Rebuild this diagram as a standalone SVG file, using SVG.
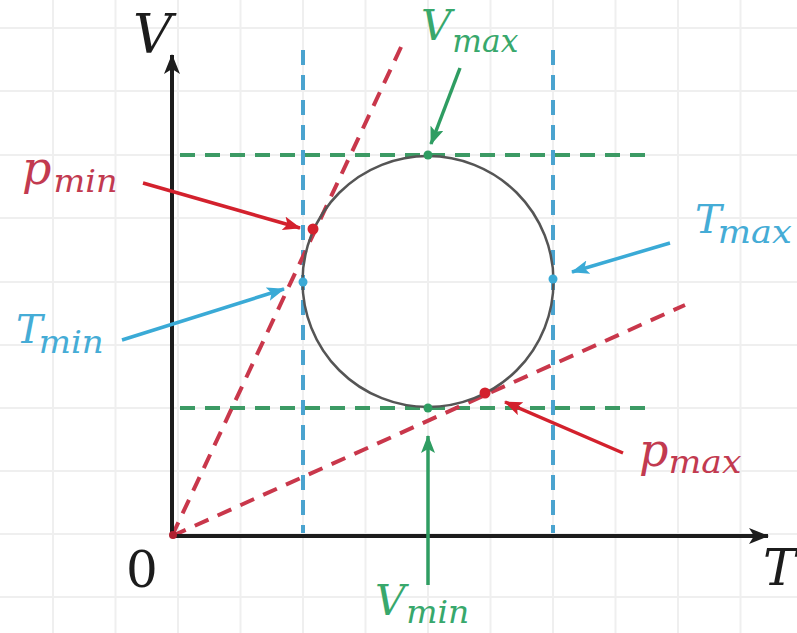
<svg xmlns="http://www.w3.org/2000/svg" width="797" height="633" viewBox="0 0 797 633">
<style>
.grid line{stroke:#efefef;stroke-width:2}
.axis{stroke:#1c1c1c;stroke-width:4;fill:none}
.dash{stroke-width:4;stroke-dasharray:15 10;fill:none}
.rd{stroke:#c9374b}
.bd{stroke:#4aa3cf}
.gd{stroke:#3c9a64}
.arr{stroke-width:3.5;fill:none}
.t{font-family:"DejaVu Serif","Liberation Serif",serif;font-style:italic}
.sub{font-size:32px}
.red{fill:#c23a50}
.blue{fill:#45acd6}
.green{fill:#38a86c}
</style>
<defs>
<marker id="ak" viewBox="0 0 20 16" refX="19" refY="8" markerWidth="20" markerHeight="16" markerUnits="userSpaceOnUse" orient="auto"><path d="M0,0 L20,8 L0,16 L5,8 Z" fill="#1c1c1c"/></marker>
<marker id="ar" viewBox="0 0 18 14" refX="17" refY="7" markerWidth="18" markerHeight="14" markerUnits="userSpaceOnUse" orient="auto"><path d="M0,0 L18,7 L0,14 L4,7 Z" fill="#d3212d"/></marker>
<marker id="ab" viewBox="0 0 18 14" refX="17" refY="7" markerWidth="18" markerHeight="14" markerUnits="userSpaceOnUse" orient="auto"><path d="M0,0 L18,7 L0,14 L4,7 Z" fill="#3aaad6"/></marker>
<marker id="ag" viewBox="0 0 18 14" refX="17" refY="7" markerWidth="18" markerHeight="14" markerUnits="userSpaceOnUse" orient="auto"><path d="M0,0 L18,7 L0,14 L4,7 Z" fill="#2f9d62"/></marker>
</defs>
<rect width="797" height="633" fill="#ffffff"/>
<g class="grid">
<line x1="53" y1="0" x2="53" y2="633"/><line x1="115.5" y1="0" x2="115.5" y2="633"/><line x1="178" y1="0" x2="178" y2="633"/><line x1="240.5" y1="0" x2="240.5" y2="633"/><line x1="303" y1="0" x2="303" y2="633"/><line x1="365.5" y1="0" x2="365.5" y2="633"/><line x1="428" y1="0" x2="428" y2="633"/><line x1="490.5" y1="0" x2="490.5" y2="633"/><line x1="553" y1="0" x2="553" y2="633"/><line x1="615.5" y1="0" x2="615.5" y2="633"/><line x1="678" y1="0" x2="678" y2="633"/><line x1="740.5" y1="0" x2="740.5" y2="633"/>
<line x1="0" y1="28" x2="797" y2="28"/><line x1="0" y1="91" x2="797" y2="91"/><line x1="0" y1="155" x2="797" y2="155"/><line x1="0" y1="218" x2="797" y2="218"/><line x1="0" y1="282" x2="797" y2="282"/><line x1="0" y1="345" x2="797" y2="345"/><line x1="0" y1="408" x2="797" y2="408"/><line x1="0" y1="471" x2="797" y2="471"/><line x1="0" y1="534" x2="797" y2="534"/><line x1="0" y1="597" x2="797" y2="597"/>
</g>
<g id="guides">
<line class="dash bd" x1="303" y1="50" x2="303" y2="533"/>
<line class="dash bd" x1="553" y1="50" x2="553" y2="533"/>
<line class="dash gd" x1="180" y1="155" x2="648" y2="155"/>
<line class="dash gd" x1="180" y1="408" x2="648" y2="408"/>
<line class="dash rd" x1="172" y1="536" x2="402" y2="45"/>
<line class="dash rd" x1="172" y1="536" x2="685" y2="305"/>
</g>
<g id="axes">
<line class="axis" x1="172" y1="538" x2="172" y2="55" marker-end="url(#ak)"/>
<line class="axis" x1="170" y1="536" x2="768" y2="536" marker-end="url(#ak)"/>
</g>
<g id="cycle">
<circle cx="428" cy="281.5" r="125.5" fill="none" stroke="#555555" stroke-width="2.5"/>
</g>
<g id="points">
<circle cx="313" cy="229" r="5.5" fill="#d3212d"/>
<circle cx="485" cy="393" r="5.5" fill="#d3212d"/>
<circle cx="303" cy="282" r="4.5" fill="#3aaad6"/>
<circle cx="553" cy="279" r="4.5" fill="#3aaad6"/>
<circle cx="428" cy="155" r="4.5" fill="#2f9d62"/>
<circle cx="428" cy="408" r="4.5" fill="#2f9d62"/>
<circle cx="173" cy="535" r="4" fill="#b02030"/>
</g>
<g id="connectors">
<line class="arr" stroke="#d3212d" x1="143" y1="183" x2="300" y2="228" marker-end="url(#ar)"/>
<line class="arr" stroke="#3aaad6" x1="122" y1="340" x2="284" y2="289" marker-end="url(#ab)"/>
<line class="arr" stroke="#3aaad6" x1="670" y1="243" x2="572" y2="272" marker-end="url(#ab)"/>
<line class="arr" stroke="#2f9d62" x1="460" y1="68" x2="431" y2="144" marker-end="url(#ag)"/>
<line class="arr" stroke="#2f9d62" x1="428" y1="585" x2="428" y2="436" marker-end="url(#ag)"/>
<line class="arr" stroke="#d3212d" x1="623" y1="453" x2="505" y2="402" marker-end="url(#ar)"/>
</g>
<g id="labels">
<text class="t" x="133" y="53" font-size="54" fill="#1c1c1c">V</text>
<text class="t" x="763" y="585" font-size="50" fill="#1c1c1c">T</text>
<text x="126" y="587" font-size="50" fill="#1c1c1c" font-family="DejaVu Serif, Liberation Serif, serif">0</text>
<text id="p-min" class="t red" x="22" y="184" font-size="46">p<tspan class="sub" dx="2" dy="8" textLength="64" lengthAdjust="spacingAndGlyphs">min</tspan></text>
<text id="T-min" class="t blue" x="16" y="343" font-size="40">T<tspan class="sub" dx="-4" dy="10" textLength="65" lengthAdjust="spacingAndGlyphs">min</tspan></text>
<text id="T-max" class="t blue" x="695" y="233" font-size="40">T<tspan class="sub" dx="-4" dy="10" textLength="74" lengthAdjust="spacingAndGlyphs">max</tspan></text>
<text id="V-max" class="t green" x="421" y="40" font-size="42">V<tspan class="sub" dx="1" dy="12" textLength="66" lengthAdjust="spacingAndGlyphs">max</tspan></text>
<text id="p-max" class="t red" x="639" y="466" font-size="46">p<tspan class="sub" dx="0" dy="7" textLength="73" lengthAdjust="spacingAndGlyphs">max</tspan></text>
<text id="V-min" class="t green" x="375" y="615" font-size="42">V<tspan class="sub" dx="1" dy="8" textLength="63" lengthAdjust="spacingAndGlyphs">min</tspan></text>
</g>
</svg>
